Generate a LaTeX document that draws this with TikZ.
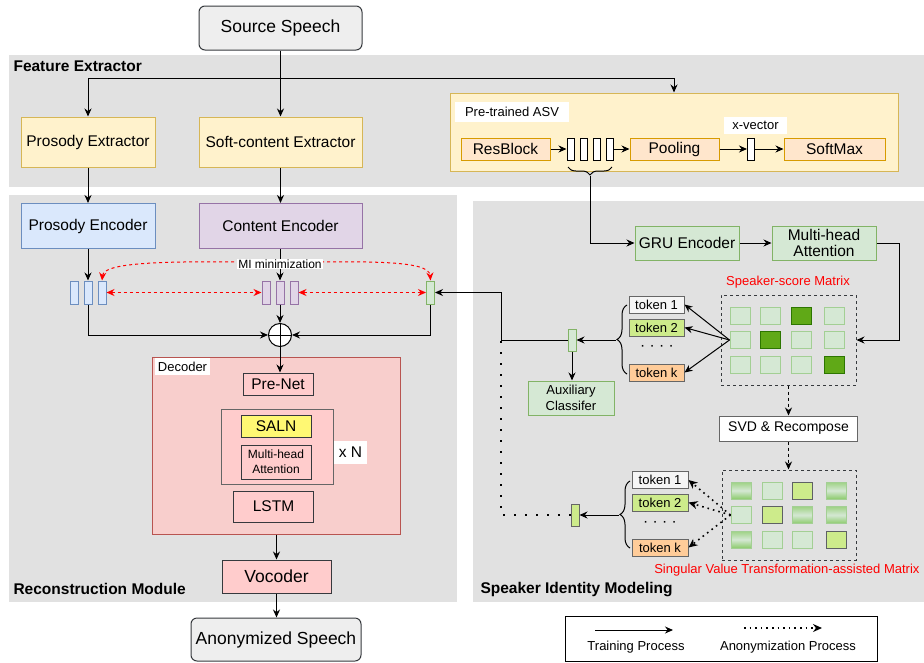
\documentclass[tikz,border=0pt]{standalone}
\usepackage{fontspec}
\setmainfont{Liberation Sans}
\usetikzlibrary{arrows.meta,decorations.pathreplacing,calc}
\definecolor{band}{HTML}{E1E1E1}
\definecolor{yfill}{HTML}{FFF2CC}\definecolor{ydraw}{HTML}{D6B656}
\definecolor{ofill}{HTML}{FFE6CC}\definecolor{odraw}{HTML}{D79B00}
\definecolor{gfill}{HTML}{D5E8D4}\definecolor{gdraw}{HTML}{82B366}
\definecolor{glight}{HTML}{A3CF94}
\definecolor{bfill}{HTML}{DAE8FC}\definecolor{bdraw}{HTML}{6C8EBF}
\definecolor{pfill}{HTML}{E1D5E7}\definecolor{pdraw}{HTML}{9673A6}
\definecolor{rfill}{HTML}{F8CECC}\definecolor{rdraw}{HTML}{B85450}
\definecolor{pink}{HTML}{FFCCCC}\definecolor{dk}{HTML}{36393D}
\definecolor{lime}{HTML}{CDEB8B}\definecolor{tokor}{HTML}{FFCC99}
\definecolor{dgf}{HTML}{60A917}\definecolor{dgd}{HTML}{2D7600}
\definecolor{grayf}{HTML}{EEEEEE}\definecolor{gmid}{HTML}{666666}
\definecolor{gtop}{HTML}{9ED284}\definecolor{gbot}{HTML}{8CCB6C}
\definecolor{mired}{HTML}{FF0000}
\begin{document}
\begin{tikzpicture}[x=1pt,y=-1pt,
  base/.style={draw, line width=1pt, inner sep=0pt, align=center},
  f17/.style={font=\fontsize{17.5}{20}\selectfont},
  f15/.style={font=\fontsize{15.5}{17}\selectfont},
  f14/.style={font=\fontsize{14}{16}\selectfont},
  f13/.style={font=\fontsize{13}{16}\selectfont},
  f12/.style={font=\fontsize{12}{15}\selectfont},
  bold15/.style={font=\fontsize{15.5}{18}\selectfont\bfseries},
  ybox/.style={base, fill=yfill, draw=ydraw, f15},
  obox/.style={base, fill=ofill, draw=odraw, f15},
  gbox/.style={base, fill=gfill, draw=gdraw},
  bbox/.style={base, fill=bfill, draw=bdraw},
  pbox/.style={base, fill=pfill, draw=pdraw},
  pkbox/.style={base, fill=pink, draw=dk},
  wlab/.style={fill=white, inner sep=0pt, f13},
  vec/.style={base, minimum width=7, minimum height=22},
  tok/.style={base, draw=gmid, minimum width=55, minimum height=17, f13},
  lcell/.style={base, fill=gfill, draw=glight, minimum width=20, minimum height=17},
  dcell/.style={base, fill=dgf, draw=dgd, minimum width=20, minimum height=17},
  gcell/.style={base, top color=gtop, bottom color=gbot, middle color=gfill, draw=glight, minimum width=20, minimum height=17},
  ycell/.style={base, fill=lime, draw=dk!80, minimum width=20, minimum height=17},
  arr/.style={-{Stealth[length=8pt,width=7pt]}, line width=1pt},
  rarr/.style={{Stealth[length=8pt,width=7pt]}-{Stealth[length=8pt,width=7pt]}, mired, line width=1pt, dash pattern=on 3pt off 3pt},
  darr/.style={-{Stealth[length=8pt,width=7pt]}, line width=1pt, dash pattern=on 3pt off 3pt},
  dotarr/.style={-{Stealth[length=9pt,width=8pt]}, line width=1.6pt, dash pattern=on 1.6pt off 4pt},
  dotl/.style={line width=1.8pt, dash pattern=on 1.8pt off 9.2pt},
  brc/.style={decorate, line width=1pt, decoration={brace, amplitude=#1}},
]
\useasboundingbox (0,0) rectangle (924,662);
% bands
\fill[band] (9,55) rectangle (924,187);
\fill[band] (9,195) rectangle (457,602);
\fill[band] (473,201) rectangle (924,602);
\node[bold15, anchor=west] (lfe) at (10,66) {Feature Extractor};
\node[bold15, anchor=west] (lrm) at (10,589) {Reconstruction Module};
\node[bold15, anchor=west] (lsi) at (477,590) {Speaker Identity Modeling};

% top
\node[base, rounded corners=6, fill=grayf, draw=dk, minimum width=163, minimum height=44, f17] (src) at (280.5,28) {Source Speech};
\node[ybox, minimum width=134, minimum height=50] (pex) at (88,142) {Prosody Extractor};
\node[ybox, minimum width=163, minimum height=50] (sce) at (280.5,142) {Soft-content Extractor};
\node[base, fill=yfill, draw=ydraw, minimum width=448, minimum height=78] (asv) at (674,132) {};
\node[wlab, minimum width=114, minimum height=20] (asvl) at (512,112) {Pre-trained ASV};
\node[obox, minimum width=89, minimum height=22] (res) at (505.5,149) {ResBlock};
\node[vec, fill=white] (v1) at (570.5,149) {};
\node[vec, fill=white] (v2) at (583.5,149) {};
\node[vec, fill=white] (v3) at (596.5,149) {};
\node[vec, fill=white] (v4) at (609.5,149) {};
\node[obox, minimum width=89, minimum height=22] (pool) at (674.5,149) {Pooling};
\node[vec, fill=white] (xv) at (751,149) {};
\node[wlab, minimum width=63, minimum height=17] (xvl) at (755.5,125) {x-vector};
\node[obox, minimum width=101, minimum height=22] (smax) at (834.5,149) {SoftMax};
\coordinate (split) at (280.5,78);
\draw[line width=1pt] (src.south) -- (split);
\draw[arr] (split) -- (sce.north);
\draw[arr] (split) -| (pex.north);
\draw[arr] (split) -| (asv.north);
\draw[arr] (res.east) -- (v1.west);
\draw[arr] (v4.east) -- (pool.west);
\draw[arr] (pool.east) -- (xv.west);
\draw[arr] (xv.east) -- (smax.west);
\draw[brc=8pt] (612,167) -- (568,167);
\coordinate (abr) at (590,176);

% speaker identity
\node[gbox, minimum width=104, minimum height=34, f15] (gru) at (687,243) {GRU Encoder};
\node[gbox, minimum width=104, minimum height=34, font=\fontsize{15.5}{16}\selectfont] (mha) at (824,243) {Multi-head\\Attention};
\draw[arr] (abr) |- (gru.west);
\draw[arr] (gru.east) -- (mha.west);

\node[base, draw=dk, dashed, minimum width=135, minimum height=90] (smat) at (788.5,340) {};
\node[f13, text=mired] (sml) at (788,282) {Speaker-score Matrix};
\foreach \n/\x/\y/\s in {11/740/315.5/lcell,12/770/315.5/lcell,13/801/315.5/dcell,14/834/315.5/lcell,
                        21/740/340/lcell,22/770/340/dcell,23/801/340/lcell,24/834/340/lcell,
                        31/740/364.5/lcell,32/770/364.5/lcell,33/801/364.5/lcell,34/834/364.5/dcell}
  \node[\s] (u\n) at (\x,\y) {};
\draw[arr] (mha.east) -- ++(23,0) |- (smat.east);

\node[tok, fill=grayf!60] (ta1) at (656.5,304.5) {token 1};
\node[tok, fill=lime] (ta2) at (656.5,327.5) {token 2};
\node[tok, fill=tokor] (tak) at (656.5,372.5) {token k};
\node[f15] (tad) at (657,348) {· · · ·};
\draw[arr] (u21.west) -- (ta1.east);
\draw[arr] (u21.west) -- (ta2.east);
\draw[arr] (u21.west) -- (tak.east);
\draw[brc=10pt] (627,374) -- (627,305);
\coordinate (ubt) at (616,340);
\node[gbox, minimum width=8, minimum height=22] (sv1) at (572,340) {};
\draw[arr] (ubt) -- (sv1.east);
\node[gbox, minimum width=86, minimum height=34, f13] (aux) at (571,398) {Auxiliary\\Classifer};
\draw[arr] (sv1.south) -- (sv1.south |- aux.north);

\node[base, fill=white, draw=gmid, minimum width=138, minimum height=25, f14] (svd) at (788.5,428.5) {SVD \& Recompose};
\draw[darr] (smat.south) -- (svd.north);

\node[base, draw=dk, dashed, minimum width=134, minimum height=90] (svt) at (789,515) {};
\draw[darr] (svd.south) -- (svd.south |- svt.north);
\foreach \n/\x/\y/\s in {11/741/490.5/gcell,12/772/490.5/lcell,13/802/490.5/ycell,14/836/490.5/gcell,
                        21/741/515/lcell,22/772/515/ycell,23/802/515/gcell,24/836/515/gcell,
                        31/741/539.5/gcell,32/772/539.5/lcell,33/802/539.5/lcell,34/836/539.5/ycell}
  \node[\s] (w\n) at (\x,\y) {};
\node[f13, text=mired, anchor=east] (svl) at (923,570) {Singular Value Transformation-assisted Matrix};

\node[tok, fill=grayf!60, minimum width=56] (tb1) at (660,480) {token 1};
\node[tok, fill=lime, minimum width=56] (tb2) at (660,502.5) {token 2};
\node[tok, fill=tokor, minimum width=56] (tbk) at (660,547.5) {token k};
\node[f15] (tbd) at (660,524) {· · · ·};
\draw[dotarr] (w21.west) -- (tb1.east);
\draw[dotarr] (w21.west) -- (tb2.east);
\draw[dotarr] (w21.west) -- (tbk.east);
\draw[brc=10pt] (630,548) -- (630,481);
\coordinate (lbt) at (619,515);
\node[base, fill=lime, draw=gmid, minimum width=8, minimum height=22] (sv2) at (575,515) {};
\draw[arr] (lbt) -- (sv2.east);

% reconstruction
\node[bbox, minimum width=134, minimum height=45, f15] (penc) at (88,226) {Prosody Encoder};
\node[pbox, minimum width=163, minimum height=45, f15] (cenc) at (280.5,226) {Content Encoder};
\draw[arr] (pex.south) -- (penc.north);
\draw[arr] (sce.south) -- (cenc.north);
\node[bbox, minimum width=8, minimum height=23] (b1) at (74,292.5) {};
\node[bbox, minimum width=8, minimum height=23] (b2) at (88,292.5) {};
\node[bbox, minimum width=8, minimum height=23] (b3) at (102,292.5) {};
\node[pbox, minimum width=8, minimum height=23] (p1) at (266,292.5) {};
\node[pbox, minimum width=8, minimum height=23] (p2) at (280,292.5) {};
\node[pbox, minimum width=8, minimum height=23] (p3) at (294,292.5) {};
\node[gbox, minimum width=8, minimum height=23] (gr) at (430.5,292.5) {};
\draw[arr] (penc.south) -- (b2.north);
\draw[arr] (cenc.south -| p2.north) -- (p2.north);
\draw[rarr] (b3.east) -- (p1.west);
\draw[rarr] (p3.east) -- (gr.west);
\draw[rarr] (b3.north) .. controls (104,259) and (200,262) .. (280,262) .. controls (360,262) and (429,259) .. (gr.north);
\node[fill=white, inner sep=1pt, f12] (mil) at (280,264) {MI minimization};
\node[circle, draw, line width=1pt, fill=white, minimum size=23, inner sep=0pt] (plus) at (280,335) {};
\draw[line width=1pt] (plus.north) -- (plus.south) (plus.west) -- (plus.east);
\draw[arr] (b2.south) |- (plus.west);
\draw[arr] (p2.south) -- (plus.north);
\draw[arr] (gr.south) |- (plus.east);

\coordinate (jn) at (501,340);
\draw[line width=1pt] (sv1.west) -- (jn);
\draw[arr] (jn) |- (gr.east);
\draw[dotl] (sv2.west) -- (jn |- sv2.west) -- (jn);

% decoder
\node[base, fill=rfill, draw=rdraw, minimum width=248, minimum height=177] (dec) at (276,445.5) {};
\node[wlab, minimum width=55, minimum height=17] (decl) at (182.5,366.5) {Decoder};
\node[pkbox, minimum width=70, minimum height=22, f15] (pre) at (278,384) {Pre-Net};
\node[base, fill=pink, draw=gmid, minimum width=112, minimum height=75] (xnb) at (277,446.5) {};
\node[base, fill=yellow!55, draw=dk, minimum width=70, minimum height=22, f15] (saln) at (276,426.5) {SALN};
\node[pkbox, minimum width=70, minimum height=34, f12] (mhb) at (276,462) {Multi-head\\Attention};
\node[fill=white, inner sep=0pt, minimum width=33, minimum height=23, f15] (xn) at (350.5,452.5) {x N};
\node[pkbox, minimum width=80, minimum height=31, f15] (lstm) at (273.5,506.5) {LSTM};
\draw[arr] (plus.south) -- (plus.south |- pre.north);
\node[pkbox, minimum width=109, minimum height=33, f17] (voc) at (276.5,576.5) {Vocoder};
\draw[arr] (voc.north |- dec.south) -- (voc.north);
\node[base, rounded corners=6, fill=grayf, draw=dk, minimum width=170, minimum height=43, f17] (anon) at (276,639.5) {Anonymized Speech};
\draw[arr] (voc.south) -- (voc.south |- anon.north);

% legend
\node[base, minimum width=312, minimum height=45] (leg) at (721,638.5) {};
\coordinate (l1a) at (595,630); \coordinate (l1b) at (673,630);
\coordinate (l2a) at (744,628); \coordinate (l2b) at (822,628);
\draw[arr] (l1a) -- (l1b);
\draw[dotarr] (l2a) -- (l2b);
\node[f13] (lt1) at (636,647) {Training Process};
\node[f13] (lt2) at (788,647) {Anonymization Process};
\end{tikzpicture}
\end{document}
